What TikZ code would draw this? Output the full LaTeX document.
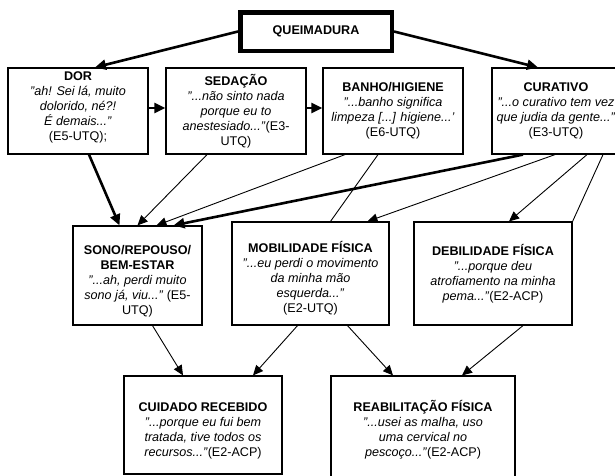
\documentclass[tikz,border=0pt]{standalone}
\usepackage{fontspec}
\setmainfont{Liberation Sans}
\usetikzlibrary{arrows.meta}

\newcommand{\desce}{\rule{0pt}{20pt}}
\newcommand{\sobe}{\rule[-9pt]{0pt}{0pt}}

\begin{document}
\begin{tikzpicture}[x=1pt,y=-1pt,
    caixa/.style={draw=black,line width=1.2pt,fill=white,align=center,inner sep=0pt,
      font=\fontsize{12.6}{15}\selectfont},
    fina/.style={line width=0.9pt,-{Triangle[length=10pt,width=9pt]}},
    grossa/.style={line width=2.6pt,-{Triangle[length=11pt,width=10pt]}},
    linha/.style={line width=0.9pt}]
        \useasboundingbox (0,0) rectangle (615,475);
        \clip (0,0) rectangle (615,475);

        \node[caixa,line width=4.5pt,minimum width=151.5pt,minimum height=38.5pt] (q) at (316, 31.5) {\textbf{QUEIMADURA}};

        \node[caixa,minimum width=140pt,minimum height=86pt] (dor)   at ( 78, 111) {\textbf{DOR}\\\textit{"ah! Sei lá, muito}\\\textit{dolorido, né?!}\\\textit{É demais..."}\\(E5-UTQ);\sobe};
        \node[caixa,minimum width=140pt,minimum height=86pt] (sed)   at (236, 111) {\textbf{SEDAÇÃO}\\\textit{"...não sinto nada}\\\textit{porque eu to}\\\textit{anestesiado..."}(E3-\\UTQ)};
        \node[caixa,minimum width=140pt,minimum height=86pt] (banho) at (393, 111) {\textbf{BANHO/HIGIENE}\\\textit{"...banho significa}\\\textit{limpeza [...] higiene...'}\\(E6-UTQ)};
        \node[caixa,minimum width=128pt,minimum height=86pt] (cur)   at (556, 111) {\textbf{CURATIVO}\\\textit{"...o curativo tem vez}\\\textit{que judia da gente..."}\\(E3-UTQ)};

        \node[caixa,minimum width=129pt,minimum height=99pt]  (sono) at (137.5, 275.5) {\desce\textbf{SONO/REPOUSO/}\\\textbf{BEM-ESTAR}\\\textit{"...ah, perdi muito}\\\textit{sono já, viu..."} (E5-\\UTQ)};
        \node[caixa,minimum width=157pt,minimum height=103pt] (mob)  at (310.5, 273.5) {\desce\textbf{MOBILIDADE FÍSICA}\\\textit{"...eu perdi o movimento}\\\textit{da minha mão}\\\textit{esquerda..."}\\(E2-UTQ)};
        \node[caixa,minimum width=158pt,minimum height=103pt] (deb)  at (493, 273.5) {\textbf{DEBILIDADE FÍSICA}\\\textit{"...porque deu}\\\textit{atrofiamento na minha}\\\textit{pema..."}(E2-ACP)};

        \node[caixa,minimum width=158pt,minimum height=98pt]  (cuid) at (203, 425) {\desce\textbf{CUIDADO RECEBIDO}\\\textit{"...porque eu fui bem}\\\textit{tratada, tive todos os}\\\textit{recursos..."}(E2-ACP)};
        \node[caixa,minimum width=184pt,minimum height=108pt] (reab) at (423, 430) {\textbf{REABILITAÇÃO FÍSICA}\\\textit{"...usei as malha, uso}\\\textit{uma cervical no}\\\textit{pescoço..."}(E2-ACP)};

        % primeira linha
        \draw[grossa] (q.west) to ([xshift=17pt]dor.north);
        \draw[grossa] (q.east) to ([xshift=-18pt]cur.north);
        \draw[grossa] ([yshift=3pt]dor.east) to ([yshift=3pt]sed.west);
        \draw[grossa] ([yshift=3pt]sed.east) to ([yshift=3pt]banho.west);

        % para a segunda linha
        \draw[grossa] ([xshift=11pt]dor.south)    to ([xshift=-18pt]sono.north);
        \draw[fina]   ([xshift=-29pt]sed.south)   to (sono.north);
        \draw[fina]   ([xshift=-48pt]banho.south) to ([xshift=19pt]sono.north);
        \draw[grossa] ([xshift=-33pt]cur.south)   to ([xshift=36pt]sono.north);
        \draw[linha]  ([xshift=-15pt]banho.south) to ([xshift=20pt]mob.north);
        \draw[fina]   ([xshift=-1pt]cur.south)    to ([xshift=57pt]mob.north);
        \draw[fina]   ([xshift=31pt]cur.south)    to ([xshift=16pt]deb.north);
        \draw[linha]  ([xshift=47pt]cur.south)    to (deb.north east);

        % para a terceira linha
        \draw[fina] ([xshift=15pt]sono.south) to ([xshift=-20pt]cuid.north);
        \draw[fina] ([xshift=-13pt]mob.south) to ([xshift=50pt]cuid.north);
        \draw[fina] ([xshift=37pt]mob.south)  to ([xshift=-30pt]reab.north);
        \draw[fina] ([xshift=30pt]deb.south)  to ([xshift=39pt]reab.north);
      \end{tikzpicture}
\end{document}
